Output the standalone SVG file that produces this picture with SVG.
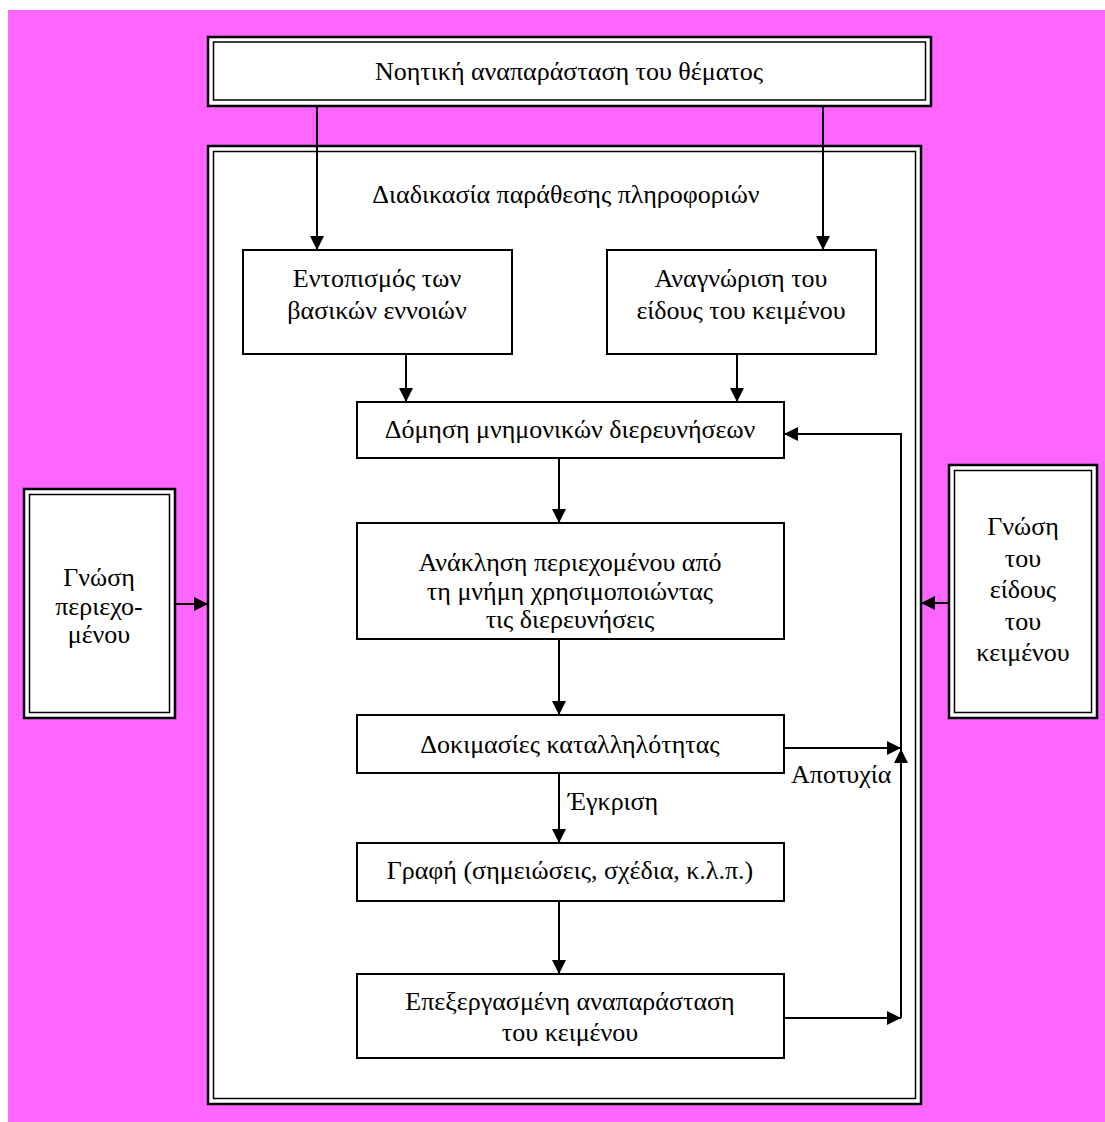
<svg xmlns="http://www.w3.org/2000/svg" width="1105" height="1122" viewBox="0 0 1105 1122">
  <style>
    .t { font-family: "Liberation Serif", "DejaVu Serif", serif; font-size: 26px; fill: #000; text-anchor: middle; }
    .ts { text-anchor: start; }
    .outer { fill: #fff; stroke: #000; stroke-width: 2.5; }
    .inner { fill: #fff; stroke: #000; stroke-width: 1.5; }
    .box { fill: #fff; stroke: #000; stroke-width: 2; }
    .ln { fill: none; stroke: #000; stroke-width: 2; }
  </style>
  <defs>
    <marker id="ah" viewBox="0 0 14 14" refX="14" refY="7" markerWidth="14" markerHeight="14" markerUnits="userSpaceOnUse" orient="auto">
      <path d="M0,0 L14,7 L0,14 Z" fill="#000"/>
    </marker>
  </defs>

  <rect x="0" y="0" width="1105" height="1122" fill="#fff"/>
  <rect x="8" y="10" width="1097" height="1112" fill="#ff66ff"/>

  <!-- top: mental representation of the topic -->
  <g id="topic">
    <rect class="outer" x="208" y="37" width="723" height="69"/>
    <rect class="inner" x="213.5" y="42" width="712" height="58"/>
    <text class="t" x="569" y="80">Νοητική αναπαράσταση του θέματος</text>
  </g>

  <!-- main process frame -->
  <g id="process">
    <rect class="outer" x="208" y="146" width="713" height="958"/>
    <rect class="inner" x="213.5" y="151.5" width="702" height="947"/>
    <text class="t" x="566" y="203">Διαδικασία παράθεσης πληροφοριών</text>
  </g>

  <g id="concepts">
    <rect class="box" x="243" y="250" width="269" height="104"/>
    <text class="t" x="377" y="287">Εντοπισμός των</text>
    <text class="t" x="377" y="319">βασικών εννοιών</text>
  </g>

  <g id="genre">
    <rect class="box" x="607" y="250" width="269" height="104"/>
    <text class="t" x="741" y="287">Αναγνώριση του</text>
    <text class="t" x="741" y="319">είδους του κειμένου</text>
  </g>

  <g id="probes">
    <rect class="box" x="357" y="402" width="427" height="56"/>
    <text class="t" x="570" y="438">Δόμηση μνημονικών διερευνήσεων</text>
  </g>

  <g id="recall">
    <rect class="box" x="357" y="523" width="427" height="116"/>
    <text class="t" x="570" y="571">Ανάκληση περιεχομένου από</text>
    <text class="t" x="570" y="600">τη μνήμη χρησιμοποιώντας</text>
    <text class="t" x="570" y="628">τις διερευνήσεις</text>
  </g>

  <g id="tests">
    <rect class="box" x="357" y="715" width="427" height="58"/>
    <text class="t" x="570" y="753">Δοκιμασίες καταλληλότητας</text>
  </g>

  <g id="writing">
    <rect class="box" x="357" y="843" width="427" height="58"/>
    <text class="t" x="570" y="879">Γραφή (σημειώσεις, σχέδια, κ.λ.π.)</text>
  </g>

  <g id="processed">
    <rect class="box" x="357" y="974" width="427" height="84"/>
    <text class="t" x="570" y="1010">Επεξεργασμένη αναπαράσταση</text>
    <text class="t" x="570" y="1041">του κειμένου</text>
  </g>

  <!-- side knowledge sources -->
  <g id="content-knowledge">
    <rect class="outer" x="24" y="489" width="151" height="229"/>
    <rect class="inner" x="29.5" y="494.5" width="140" height="218"/>
    <text class="t" x="99" y="586">Γνώση</text>
    <text class="t" x="99" y="615">περιεχο-</text>
    <text class="t" x="99" y="643">μένου</text>
  </g>

  <g id="genre-knowledge">
    <rect class="outer" x="949" y="465" width="148" height="253"/>
    <rect class="inner" x="954.5" y="470.5" width="137" height="242"/>
    <text class="t" x="1023" y="535">Γνώση</text>
    <text class="t" x="1023" y="567">του</text>
    <text class="t" x="1023" y="598">είδους</text>
    <text class="t" x="1023" y="630">του</text>
    <text class="t" x="1023" y="661">κειμένου</text>
  </g>

  <!-- connectors -->
  <g id="connectors">
    <path class="ln" d="M317,106 V250" marker-end="url(#ah)"/>
    <path class="ln" d="M823,106 V250" marker-end="url(#ah)"/>
    <path class="ln" d="M406,354 V402" marker-end="url(#ah)"/>
    <path class="ln" d="M737,354 V402" marker-end="url(#ah)"/>
    <path class="ln" d="M559,458 V523" marker-end="url(#ah)"/>
    <path class="ln" d="M559,639 V715" marker-end="url(#ah)"/>
    <path class="ln" d="M559,773 V843" marker-end="url(#ah)"/>
    <path class="ln" d="M559,901 V974" marker-end="url(#ah)"/>
    <path class="ln" d="M784,748 H901" marker-end="url(#ah)"/>
    <path class="ln" d="M784,1018 H901" marker-end="url(#ah)"/>
    <path class="ln" d="M901,1018 V749" marker-end="url(#ah)"/>
    <path class="ln" d="M901,749 V434 H784" marker-end="url(#ah)"/>
    <path class="ln" d="M175,604 H208" marker-end="url(#ah)"/>
    <path class="ln" d="M949,603 H921" marker-end="url(#ah)"/>
    <text class="t ts" x="568" y="810">Έγκριση</text>
    <text class="t ts" x="791" y="783">Αποτυχία</text>
  </g>
</svg>
